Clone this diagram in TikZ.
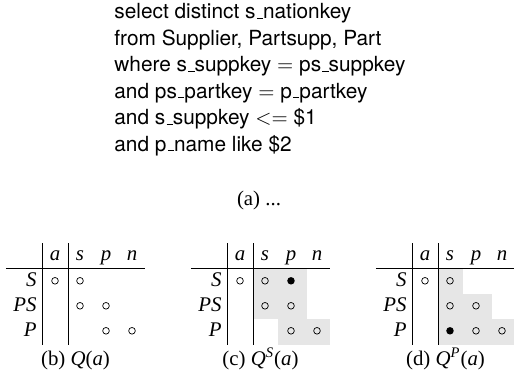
\documentclass[tikz,border=0pt]{standalone}
\usepackage{fontspec}
\setmainfont{Liberation Serif}
\setsansfont{TeX Gyre Heros}
\usetikzlibrary{positioning}
\definecolor{cshade}{HTML}{E6E6E6}
\newcommand{\us}{\leavevmode\kern.06em\vbox{\hrule width.3em}}
\tikzset{
  every picture/.style={x=0.48pt, y=-0.48pt, line width=0.4pt},
  sql/.style={font=\sffamily, anchor=base west, inner sep=0pt},
  hdr/.style={font=\itshape, anchor=base, inner sep=0pt},
  rowlbl/.style={font=\itshape, anchor=base east, inner sep=0pt},
  caption/.style={anchor=base, inner sep=0pt},
  opendot/.style={draw=black, line width=0.35pt},
  fulldot/.style={fill=black},
}
% frame of one Q table: #1 prefix, #2 caption
\newcommand{\qgrid}[2]{%
  \foreach \h/\x in {a/55, s/80, p/106, n/132}
    \node[hdr] (#1-\h) at (\x,260) {\h};
  \foreach \r/\y in {S/286, PS/311, P/336}
    \node[rowlbl] (#1-\r) at (37,\y) {\r};
  \draw (6,268) -- (145,268);
  \draw (42,243) -- (42,344.5) (68,243) -- (68,344.5);
  \node[caption] (#1-cap) at (75.5,365) {#2};
}
\newcommand{\qdot}[2]{\draw[opendot] (#1,#2) circle[radius=1.6pt];}
\newcommand{\qbul}[2]{\fill[fulldot] (#1,#2) circle[radius=1.8pt];}

\begin{document}
\begin{tikzpicture}
  \useasboundingbox (0,0) rectangle (514,385);
  % query
  \foreach \ln [count=\i] in {{select distinct s\us nationkey}, {from Supplier, Partsupp, Part},
      {where s\us suppkey $=$ ps\us suppkey}, {and ps\us partkey $=$ p\us partkey},
      {and s\us suppkey $<=$ \$1}, {and p\us name like \$2}}
    \node[sql] (q\i) at (114,{18.5+26.5*(\i-1)}) {\ln};
  \node[caption] (capa) at (259,205) {(a) ...};
  % Q(a)
  \qgrid{b}{(b) \textit{Q}(\textit{a})}
  \foreach \x/\y in {55/280.8, 80/280.8, 80/305.8, 106/305.8, 106/330.8, 132/330.8}
    {\qdot{\x}{\y}}
  % Q^S(a)
  \begin{scope}[shift={(185,0)}]
  \fill[cshade] (68,268) rectangle (122,318.5);
  \fill[cshade] (93,318.5) rectangle (145,344.5);
  \qgrid{c}{(c) \textit{Q}\textsuperscript{\textit{S}}(\textit{a})}
  \foreach \x/\y in {55/280.8, 80/280.8, 80/305.8, 106/305.8, 106/330.8, 132/330.8}
    {\qdot{\x}{\y}}
  \qbul{106}{280.8}
  \end{scope}
  % Q^P(a)
  \begin{scope}[shift={(370,0)}]
  \fill[cshade] (68,268) rectangle (93,293.5);
  \fill[cshade] (68,293.5) rectangle (122,318.5);
  \fill[cshade] (68,318.5) rectangle (145,344.5);
  \qgrid{d}{(d) \textit{Q}\textsuperscript{\textit{P}}(\textit{a})}
  \foreach \x/\y in {55/280.8, 80/280.8, 80/305.8, 106/305.8, 106/330.8, 132/330.8}
    {\qdot{\x}{\y}}
  \qbul{80}{330.8}
  \end{scope}
\end{tikzpicture}
\end{document}
